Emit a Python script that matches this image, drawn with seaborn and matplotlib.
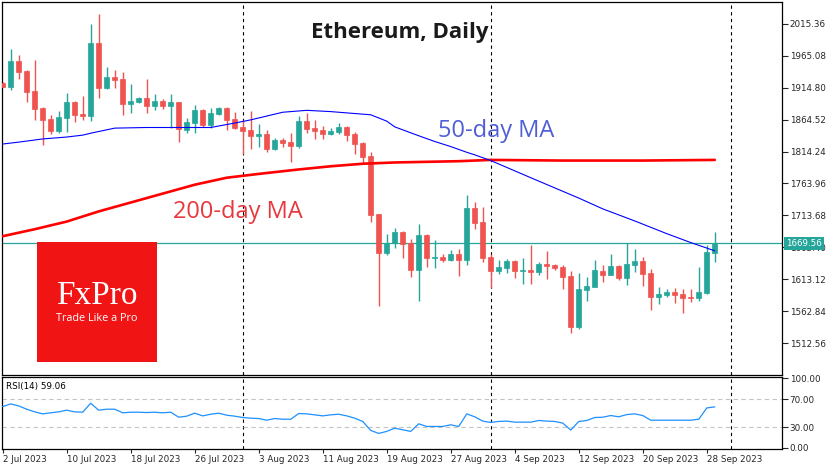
import matplotlib
matplotlib.use("Agg")

import matplotlib.pyplot as plt
import matplotlib.patches as mpatches
import seaborn as sns
import pandas as pd

# ---- data (ETH daily, 2 Jul - 29 Sep 2023) ----
dates = pd.date_range("2023-07-02", periods=90, freq="D")

open_ = [1921.4, 1916.2, 1956.6, 1940.9, 1909.4, 1882.6, 1865.3, 1846.4, 1867.4, 1892.0,
         1873.1, 1870.0, 1985.0, 1914.1, 1931.4, 1928.3, 1888.9, 1892.0, 1898.3, 1885.8,
         1893.6, 1885.8, 1892.0, 1847.9, 1858.9, 1879.4, 1855.8, 1873.1, 1882.6, 1865.3,
         1852.7, 1848.0, 1838.5, 1841.7, 1818.0, 1832.2, 1829.1, 1822.8, 1862.1, 1851.1,
         1848.0, 1841.7, 1844.8, 1852.7, 1841.7, 1827.5, 1807.0, 1715.7, 1654.2, 1670.0,
         1687.3, 1670.0, 1627.5, 1682.6, 1646.4, 1647.9, 1643.2, 1652.7, 1643.2, 1725.1,
         1703.1, 1648.0, 1625.9, 1630.6, 1641.6, 1626.4, 1627.5, 1624.3, 1636.9, 1635.4,
         1632.2, 1618.0, 1537.7, 1596.0, 1600.7, 1625.9, 1619.6, 1633.8, 1614.9, 1635.4,
         1641.6, 1622.8, 1585.0, 1588.1, 1592.8, 1589.7, 1585.0, 1583.4, 1591.3, 1654.8]
close_ = [1916.2, 1956.6, 1939.8, 1908.3, 1881.5, 1863.7, 1846.4, 1868.4, 1892.0, 1871.6,
          1870.0, 1985.0, 1914.1, 1931.4, 1927.2, 1888.9, 1893.6, 1898.3, 1885.8, 1893.6,
          1885.8, 1892.0, 1849.5, 1860.5, 1879.4, 1855.8, 1874.7, 1882.6, 1863.7, 1851.1,
          1846.4, 1838.5, 1841.7, 1818.0, 1832.2, 1827.5, 1822.8, 1862.1, 1849.5, 1846.4,
          1841.7, 1846.4, 1852.7, 1840.1, 1825.9, 1805.4, 1714.1, 1654.2, 1670.0, 1687.3,
          1668.4, 1627.5, 1682.6, 1646.4, 1647.9, 1643.2, 1652.7, 1643.2, 1725.1, 1701.5,
          1646.4, 1625.9, 1632.2, 1641.6, 1625.9, 1627.5, 1624.3, 1636.9, 1633.8, 1630.6,
          1616.4, 1537.7, 1597.5, 1602.3, 1627.5, 1619.6, 1633.8, 1614.9, 1636.9, 1641.6,
          1621.2, 1585.0, 1589.7, 1592.8, 1588.1, 1583.4, 1583.4, 1592.8, 1655.8, 1669.56]
high_ = [1924.1, 1975.5, 1966.1, 1942.4, 1958.2, 1884.7, 1871.6, 1877.9, 1906.2, 1894.1,
         1901.5, 2014.9, 2030.6, 1947.2, 1942.4, 1939.3, 1920.9, 1899.9, 1928.3, 1904.6,
         1896.8, 1904.6, 1892.0, 1866.3, 1887.3, 1881.0, 1882.6, 1884.2, 1884.2, 1876.3,
         1863.7, 1877.9, 1857.4, 1848.0, 1835.4, 1835.4, 1843.2, 1870.0, 1874.7, 1863.7,
         1854.3, 1851.1, 1859.0, 1854.3, 1844.8, 1829.1, 1813.3, 1715.7, 1684.2, 1693.6,
         1688.9, 1676.3, 1699.9, 1684.2, 1674.7, 1652.7, 1659.0, 1660.5, 1745.6, 1734.6,
         1726.7, 1652.7, 1643.2, 1644.8, 1643.2, 1646.4, 1666.9, 1640.1, 1657.4, 1636.9,
         1635.4, 1625.9, 1622.8, 1616.4, 1643.2, 1635.4, 1652.7, 1635.4, 1670.0, 1660.5,
         1648.0, 1629.1, 1600.7, 1597.5, 1599.1, 1597.5, 1597.5, 1632.2, 1666.9, 1687.3]
low_ = [1915.1, 1910.9, 1928.3, 1892.6, 1863.7, 1824.3, 1841.7, 1843.2, 1844.8, 1861.1,
        1863.7, 1862.6, 1898.3, 1912.5, 1914.1, 1871.6, 1874.7, 1890.5, 1874.7, 1879.4,
        1881.0, 1851.1, 1829.0, 1843.2, 1843.2, 1852.7, 1851.1, 1871.6, 1847.9, 1849.5,
        1810.2, 1818.0, 1821.2, 1813.3, 1816.5, 1821.2, 1797.6, 1819.6, 1843.2, 1833.8,
        1833.8, 1840.1, 1841.7, 1830.6, 1810.2, 1796.0, 1703.1, 1570.8, 1651.1, 1662.1,
        1646.4, 1616.4, 1578.6, 1632.2, 1630.6, 1640.1, 1641.6, 1618.0, 1635.3, 1692.0,
        1640.1, 1599.1, 1621.2, 1622.8, 1614.9, 1605.4, 1605.4, 1619.6, 1613.3, 1627.5,
        1597.5, 1528.2, 1534.5, 1578.6, 1600.7, 1608.6, 1619.6, 1611.7, 1603.9, 1624.3,
        1602.3, 1564.5, 1573.9, 1585.0, 1575.5, 1559.8, 1577.1, 1578.6, 1589.7, 1640.1]

# moving averages, sampled along the drawn lines
ma50_days = [0, 2, 5, 8, 10, 11, 14, 18, 26, 29, 31, 33, 35, 38, 41, 43, 46, 48, 49,
             52, 54, 56, 58, 59, 61, 66, 72, 75, 79, 83, 86, 89]
ma50_vals = [1826, 1829, 1834, 1837, 1840, 1843, 1851, 1852, 1852, 1859, 1864, 1870, 1876,
             1879, 1877, 1875, 1872, 1862, 1853, 1839, 1830, 1822, 1813, 1809, 1800, 1773,
             1741, 1724, 1705, 1685, 1671, 1658]
ma200_days = [0, 4, 8, 12, 16, 20, 24, 28, 32, 37, 41, 45, 49, 53, 57, 61, 70, 80, 89]
ma200_vals = [1681, 1692, 1704, 1720, 1734, 1748, 1762, 1773, 1779, 1786, 1791, 1795,
              1797, 1798, 1799, 1801, 1800, 1800, 1801]

rsi = [59.5, 63.3, 60.5, 55.7, 51.9, 49.0, 50.5, 51.9, 54.3, 51.9,
       51.4, 64.3, 54.3, 55.7, 55.7, 50.5, 51.4, 51.4, 50.9, 51.4,
       50.5, 51.4, 44.2, 45.7, 50.0, 46.1, 48.5, 50.0, 47.1, 45.7,
       43.8, 42.8, 42.3, 39.9, 42.3, 41.3, 41.3, 49.5, 49.0, 47.6,
       46.1, 47.6, 48.5, 46.1, 42.8, 38.1, 25.2, 20.9, 23.8, 28.5,
       26.1, 23.8, 34.7, 30.9, 30.9, 30.9, 33.3, 30.9, 49.0, 44.8,
       38.6, 36.7, 38.1, 38.6, 37.1, 37.1, 37.1, 39.5, 38.6, 38.1,
       35.7, 25.7, 38.1, 39.5, 43.8, 44.2, 46.6, 44.8, 48.0, 49.0,
       46.6, 39.9, 39.9, 39.9, 39.9, 39.9, 39.9, 41.3, 57.5, 59.06]

price_ticks = [1512.56, 1562.84, 1613.12, 1663.40, 1713.68, 1763.96,
               1814.24, 1864.52, 1914.80, 1965.08, 2015.36]
rsi_ticks = [0, 30, 70, 100]
last_price = 1669.56
month_starts = pd.to_datetime(["2023-08-01", "2023-09-01", "2023-10-01"])
tick_dates = pd.date_range("2023-07-02", "2023-09-28", freq="8D")

BULL = "#26a69a"
BEAR = "#ef5350"

sns.set_theme(style="white", rc={"axes.edgecolor": "black", "axes.linewidth": 0.9})
plt.rcParams["font.family"] = ["DejaVu Sans"]

df = pd.DataFrame({"date": dates, "open": open_, "high": high_, "low": low_, "close": close_})
df["up"] = df["close"] >= df["open"]
colors = [BULL if u else BEAR for u in df["up"]]

fig = plt.figure(figsize=(8.35, 4.70), dpi=100)
W, H = 835, 470
ax = fig.add_axes([2 / W, 1 - 375 / H, 780 / W, 373 / H])
ax2 = fig.add_axes([2 / W, 1 - 449 / H, 780 / W, 72 / H], sharex=ax)

# candles
ax.vlines(df["date"], df["low"], df["high"], colors=colors, lw=1.0, zorder=3)
ax.bar(df["date"], (df["close"] - df["open"]).abs(),
       bottom=df[["open", "close"]].min(axis=1), width=0.6,
       color=colors, edgecolor=colors, linewidth=0.5, zorder=4)

# moving averages
base = dates[0]
ma50 = pd.DataFrame({"date": [base + pd.Timedelta(days=d) for d in ma50_days], "v": ma50_vals})
ma200 = pd.DataFrame({"date": [base + pd.Timedelta(days=d) for d in ma200_days], "v": ma200_vals})
sns.lineplot(data=ma200, x="date", y="v", ax=ax, color="#ff0000", lw=1.9, zorder=5)
sns.lineplot(data=ma50, x="date", y="v", ax=ax, color="#0000ff", lw=0.8, zorder=5)

ax.axhline(last_price, color=BULL, lw=0.9, zorder=2)
for m in month_starts:
    ax.axvline(m, color="black", lw=0.8, ls=(0, (3, 3)), zorder=1)
    ax2.axvline(m, color="black", lw=0.8, ls=(0, (3, 3)), zorder=1)

ax.set_xlim(base - pd.Timedelta(hours=2), base + pd.Timedelta(days=97.4))
ax.set_ylim(1462.7, 2049.4)
ax.yaxis.tick_right()
ax.set_yticks(price_ticks)
ax.set_yticklabels([f"{t:.2f}" for t in price_ticks])
ax.tick_params(axis="y", direction="out", length=4, width=0.8, labelsize=6.3, pad=1.5,
               right=True, left=False)
ax.tick_params(axis="x", bottom=False, labelbottom=False)
ax.set_xlabel("")
ax.set_ylabel("")

ax.annotate(f"{last_price:.2f}", xy=(1, last_price), xycoords=ax.get_yaxis_transform(),
            xytext=(4, 0), textcoords="offset pixels", va="center", ha="left",
            fontsize=6.3, color="white", annotation_clip=False, zorder=10,
            bbox=dict(boxstyle="square,pad=0.2", fc=BULL, ec="none"))

# labels on the chart
ax.text(0.510, 0.917, "Ethereum, Daily", transform=ax.transAxes, ha="center", va="center",
        fontsize=16, fontweight="bold", color="#1a1a1a", family=["Open Sans", "DejaVu Sans"])
ax.text(0.559, 0.637, "50-day MA", transform=ax.transAxes, ha="left", va="baseline",
        fontsize=17, color="#4f5fd5", family=["Open Sans", "DejaVu Sans"])
ax.text(0.219, 0.420, "200-day MA", transform=ax.transAxes, ha="left", va="baseline",
        fontsize=17, color="#e8383e", family=["Open Sans", "DejaVu Sans"])

# FxPro logo
logo = mpatches.Rectangle((36.7 / W, 1 - 361.7 / H), 120.6 / W, 119.7 / H,
                          transform=fig.transFigure, facecolor="#f01414",
                          edgecolor="none", zorder=20)
fig.patches.append(logo)
fig.text(97 / W, 1 - 304 / H, "FxPro", ha="center", va="baseline", color="white",
         fontsize=24, family=["Liberation Serif", "DejaVu Serif"], zorder=21)
fig.text(97 / W, 1 - 320.7 / H, "Trade Like a Pro", ha="center", va="baseline",
         color="white", fontsize=7.8, family=["Open Sans", "DejaVu Sans"], zorder=21)

# RSI panel
rsi_df = pd.DataFrame({"date": dates, "rsi": rsi})
sns.lineplot(data=rsi_df, x="date", y="rsi", ax=ax2, color="#1e90ff", lw=0.9, zorder=4)
for lvl in (30, 70):
    ax2.axhline(lvl, color="#c4c4c4", lw=0.8, ls=(0, (4, 3)), zorder=1)
ax2.set_ylim(-1.5, 102)
ax2.yaxis.tick_right()
ax2.set_yticks(rsi_ticks)
ax2.set_yticklabels([f"{t:.2f}" for t in rsi_ticks])
ax2.tick_params(axis="y", direction="out", length=4, width=0.8, labelsize=6.3, pad=1.5,
                right=True, left=False)
ax2.set_xticks(tick_dates)
ax2.set_xticklabels([f"{d.day} {d:%b %Y}" for d in tick_dates], ha="left")
ax2.tick_params(axis="x", direction="out", length=3, width=0.8, labelsize=6.3, pad=1.5,
                bottom=True)
ax2.set_xlabel("")
ax2.set_ylabel("")
ax2.text(0.005, 0.93, "RSI(14) 59.06", transform=ax2.transAxes, ha="left", va="top",
         fontsize=6.3, color="black")

fig.savefig("out.png", dpi=100)
